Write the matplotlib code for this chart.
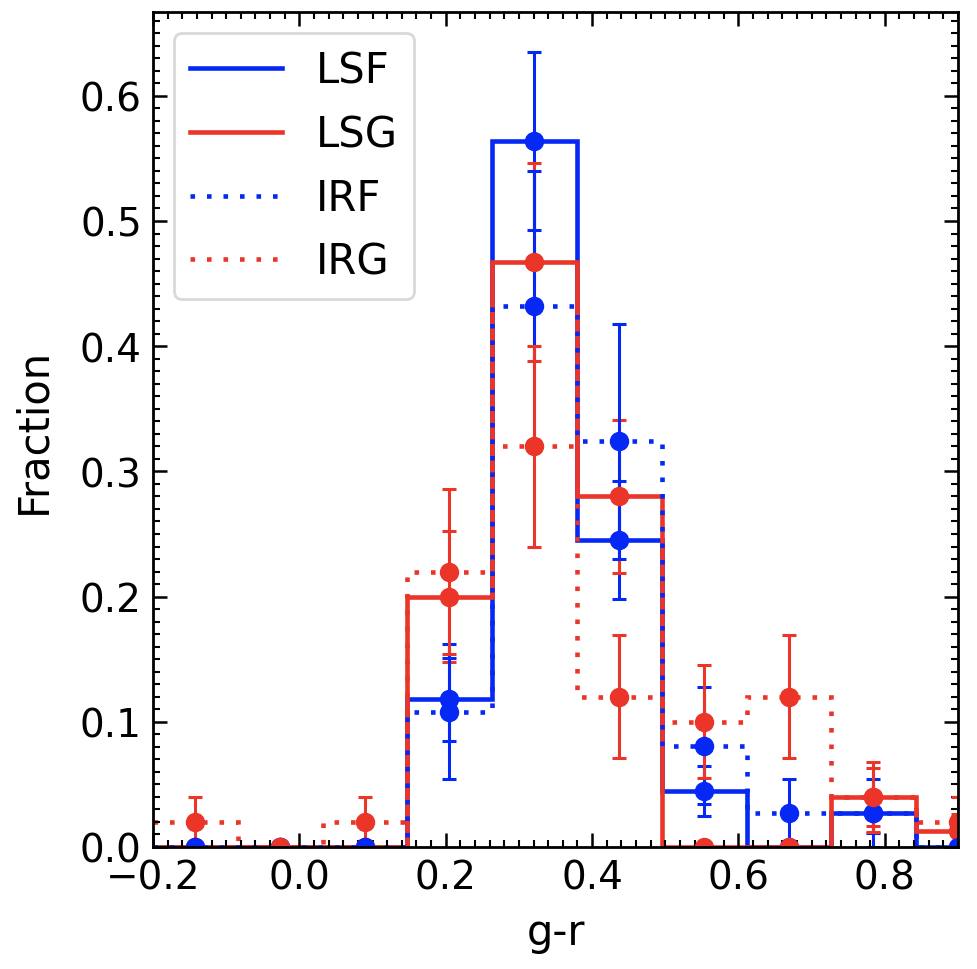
import numpy as np
import matplotlib
matplotlib.use("Agg")
import matplotlib.pyplot as plt
from matplotlib.ticker import MultipleLocator

# bin edges in g-r
edges = [-0.2, -0.084, 0.032, 0.147, 0.263, 0.379, 0.495, 0.611, 0.726, 0.842, 0.958]

# fractions per bin
lsf = [0.0, 0.0, 0.0, 0.118, 0.564, 0.245, 0.045, 0.0, 0.027, 0.0]
lsg = [0.0, 0.0, 0.0, 0.200, 0.467, 0.280, 0.0, 0.0, 0.040, 0.013]
irf = [0.0, 0.0, 0.0, 0.108, 0.432, 0.324, 0.081, 0.027, 0.027, 0.0]
irg = [0.02, 0.0, 0.02, 0.220, 0.320, 0.120, 0.100, 0.120, 0.040, 0.020]

# errors per bin
lsf_err = [0.0, 0.0, 0.0, 0.033, 0.071, 0.047, 0.020, 0.0, 0.016, 0.0]
lsg_err = [0.0, 0.0, 0.0, 0.052, 0.079, 0.061, 0.0, 0.0, 0.023, 0.013]
irf_err = [0.0, 0.0, 0.0, 0.054, 0.108, 0.094, 0.047, 0.027, 0.027, 0.0]
irg_err = [0.02, 0.0, 0.02, 0.066, 0.080, 0.049, 0.045, 0.049, 0.028, 0.020]

labels = ["LSF", "LSG", "IRF", "IRG"]
BLUE = "#0528F5"
RED = "#EA3528"

series = [
    (lsf, lsf_err, BLUE, "-"),
    (lsg, lsg_err, RED, "-"),
    (irf, irf_err, BLUE, (0, (1, 2.6))),
    (irg, irg_err, RED, (0, (1, 2.6))),
]

plt.rcParams["font.family"] = "DejaVu Sans"
fig = plt.figure(figsize=(9.78, 9.70), dpi=100)
ax = fig.add_axes([0.1564, 0.1258, 0.8232, 0.8605])

e = np.array(edges)
centers = 0.5 * (e[:-1] + e[1:])

handles = []
for (vals, errs, col, ls), lab in zip(series, labels):
    ax.stairs(vals, edges, color=col, linestyle=ls, linewidth=3.3, baseline=None)
    ax.errorbar(centers, vals, yerr=errs, fmt="o", color=col, ms=13,
                elinewidth=2.2, capsize=5, capthick=2.2)
    h, = ax.plot([], [], color=col, linestyle=ls, linewidth=3.3, label=lab)
    handles.append(h)

ax.set_xlim(-0.2, 0.9)
ax.set_ylim(0, 0.6667)
ax.xaxis.set_major_locator(MultipleLocator(0.2))
ax.xaxis.set_minor_locator(MultipleLocator(0.02))
ax.yaxis.set_major_locator(MultipleLocator(0.1))
ax.yaxis.set_minor_locator(MultipleLocator(0.01))
ax.tick_params(which="both", direction="in", top=True, right=True, labelsize=28)
ax.tick_params(which="major", length=10, width=1.8, pad=8)
ax.tick_params(which="minor", length=5, width=1.5)
for sp in ax.spines.values():
    sp.set_linewidth(2)

ax.set_xlabel("g-r", fontsize=30, labelpad=11)
ax.set_ylabel("Fraction", fontsize=30, labelpad=18)

leg = ax.legend(handles=handles, loc="upper left", fontsize=30, handlelength=2.2,
                labelspacing=0.52, frameon=True, fancybox=True)
leg.get_frame().set_linewidth(2)
leg.get_frame().set_edgecolor("#d0d0d0")

fig.savefig("out.png", dpi=100)
